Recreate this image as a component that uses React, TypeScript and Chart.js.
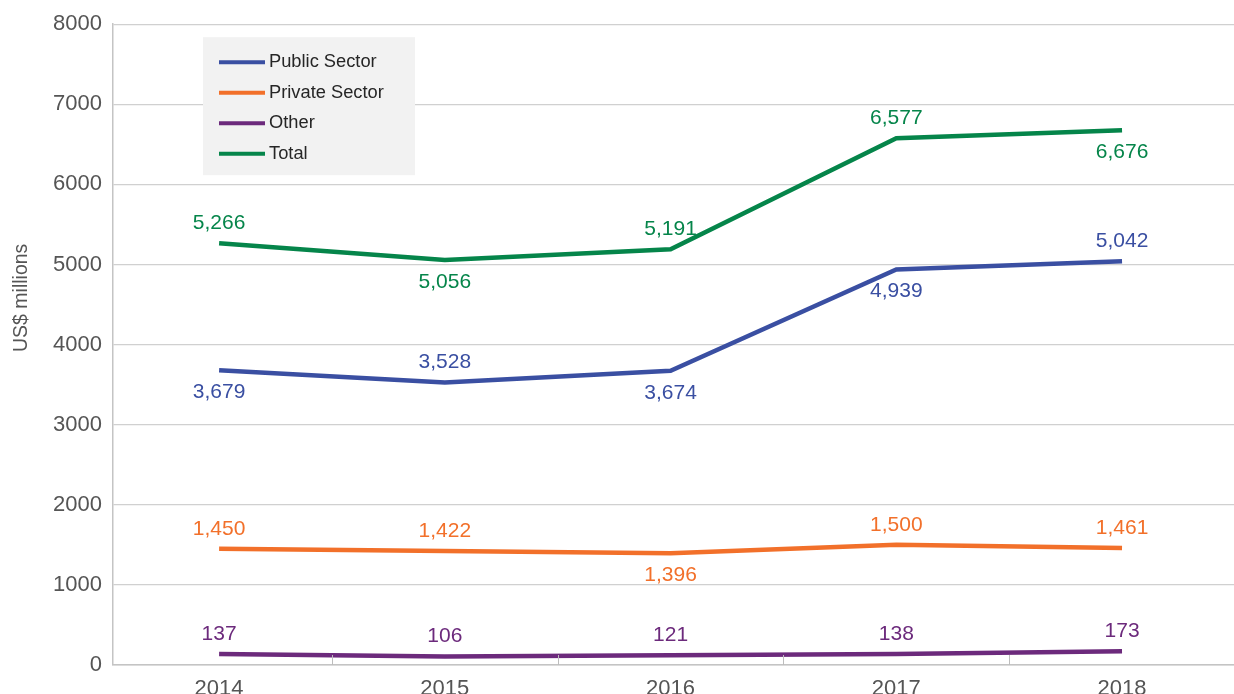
import React, { useEffect, useRef } from "react";
import { Chart, registerables } from "chart.js";

Chart.register(...registerables);

const years = [2014, 2015, 2016, 2017, 2018];
const publicSector = [3679, 3528, 3674, 4939, 5042];
const privateSector = [1450, 1422, 1396, 1500, 1461];
const other = [137, 106, 121, 138, 173];
const total = [5266, 5056, 5191, 6577, 6676];
const seriesNames = ["Public Sector", "Private Sector", "Other", "Total"];
const seriesColors = ["#3a4fa2", "#f2702a", "#6c2a7c", "#05854a"];
const yAxisTitle = "US$ millions";
// which side of the point each value label sits on: 1 = below, -1 = above
const labelSides = [
  [1, -1, 1, 1, -1],
  [-1, -1, 1, -1, -1],
  [-1, -1, -1, -1, -1],
  [-1, 1, -1, -1, 1],
];

const FONT = "'Liberation Sans', Arial, Helvetica, sans-serif";

const valueLabelPlugin = {
  id: "valueLabels",
  afterDatasetsDraw(chart: any) {
    const ctx = chart.ctx;
    ctx.save();
    ctx.font = `21px ${FONT}`;
    ctx.textAlign = "center";
    ctx.textBaseline = "middle";
    chart.data.datasets.forEach((ds: any, di: number) => {
      const meta = chart.getDatasetMeta(di);
      ctx.fillStyle = ds.borderColor;
      meta.data.forEach((pt: any, i: number) => {
        const v = ds.data[i].y;
        const side = labelSides[di][i];
        ctx.fillText(v.toLocaleString("en-US"), pt.x, pt.y + side * (side > 0 ? 22 : 20));
      });
    });
    ctx.restore();
  },
};

const boxLegendPlugin = {
  id: "boxLegend",
  afterDraw(chart: any) {
    const ctx = chart.ctx;
    const { left, top } = chart.chartArea;
    const x0 = left + 90;
    const y0 = top + 13;
    ctx.save();
    ctx.fillStyle = "#f2f2f2";
    ctx.fillRect(x0, y0, 212, 138);
    ctx.font = `18.3px ${FONT}`;
    ctx.textBaseline = "middle";
    ctx.textAlign = "left";
    chart.data.datasets.forEach((ds: any, i: number) => {
      const y = y0 + 25 + i * 30.5;
      ctx.strokeStyle = ds.borderColor;
      ctx.lineWidth = 4;
      ctx.beginPath();
      ctx.moveTo(x0 + 16, y);
      ctx.lineTo(x0 + 62, y);
      ctx.stroke();
      ctx.fillStyle = "#262626";
      ctx.fillText(ds.label, x0 + 66, y);
    });
    ctx.restore();
  },
};

const axisTitlePlugin = {
  id: "axisTitle",
  afterDraw(chart: any) {
    const ctx = chart.ctx;
    const { top, bottom } = chart.chartArea;
    ctx.save();
    ctx.translate(22, top + (bottom - top) * 0.427);
    ctx.rotate(-Math.PI / 2);
    ctx.font = `19.5px ${FONT}`;
    ctx.fillStyle = "#555555";
    ctx.textAlign = "center";
    ctx.textBaseline = "middle";
    ctx.fillText(yAxisTitle, 0, 0);
    ctx.restore();
  },
};

const innerTicksPlugin = {
  id: "innerTicks",
  afterDraw(chart: any) {
    const ctx = chart.ctx;
    const xs = chart.scales.x;
    const bottom = chart.chartArea.bottom;
    ctx.save();
    ctx.strokeStyle = "#bdbdbd";
    ctx.lineWidth = 1;
    for (let i = 0; i < years.length - 1; i++) {
      const px = Math.round(xs.getPixelForValue(years[i] + 0.5)) + 0.5;
      ctx.beginPath();
      ctx.moveTo(px, bottom - 10);
      ctx.lineTo(px, bottom);
      ctx.stroke();
    }
    ctx.restore();
  },
};

export default function App() {
  const ref = useRef<HTMLCanvasElement | null>(null);

  useEffect(() => {
    if (!ref.current) return;
    const series = [publicSector, privateSector, other, total];
    const chart = new Chart(ref.current, {
      type: "line",
      data: {
        datasets: series.map((s, k) => ({
          label: seriesNames[k],
          data: s.map((v, i) => ({ x: years[i], y: v })),
          borderColor: seriesColors[k],
          backgroundColor: seriesColors[k],
          borderWidth: 4.5,
          pointRadius: 0,
          tension: 0,
          fill: false,
        })),
      },
      options: {
        animation: false,
        responsive: true,
        maintainAspectRatio: false,
        layout: { padding: { top: 24, right: 0, left: 0, bottom: 0 } },
        plugins: {
          legend: { display: false },
          tooltip: { enabled: false },
        },
        scales: {
          x: {
            type: "linear",
            min: 2013.53,
            max: 2018.496,
            afterBuildTicks: (scale: any) => {
              scale.ticks = years.map((y) => ({ value: y }));
            },
            afterFit: (scale: any) => {
              scale.height = 29;
            },
            grid: { display: true, drawOnChartArea: false, drawTicks: false },
            border: { display: true, color: "#c4c4c4", width: 1.5 },
            ticks: {
              padding: 11,
              color: "#555555",
              font: { family: FONT, size: 22 },
              maxRotation: 0,
              callback: (v: any) => String(v),
            },
          },
          y: {
            min: 0,
            max: 8000,
            afterFit: (scale: any) => {
              scale.width = 113;
            },
            grid: { color: "#d0d0d0", lineWidth: 1.2, drawTicks: false },
            border: { display: true, color: "#c4c4c4", width: 1.5 },
            ticks: {
              stepSize: 1000,
              padding: 11,
              color: "#555555",
              font: { family: FONT, size: 22 },
              callback: (v: any) => String(v),
            },
          },
        },
      },
      plugins: [innerTicksPlugin, valueLabelPlugin, boxLegendPlugin, axisTitlePlugin],
    } as any);
    return () => chart.destroy();
  }, []);

  return (
    <div style={{ position: "fixed", left: 0, top: 0, width: 1234, height: 694, background: "#fff" }}>
      <canvas ref={ref} />
    </div>
  );
}
